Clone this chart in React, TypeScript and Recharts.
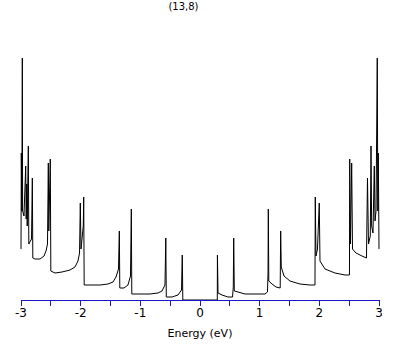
import { Label, Line, LineChart, XAxis, YAxis } from 'recharts';

// density of states for the (13,8) tube
const energy = [
  -3.0, -2.995, -2.986, -2.978, -2.973, -2.95, -2.921, -2.913, -2.904, -2.896,
  -2.877, -2.869, -2.824, -2.81, -2.802, -2.765, -2.681, -2.614, -2.581, -2.556,
  -2.542, -2.534, -2.509, -2.5, -2.43, -2.313, -2.179, -2.095, -2.045, -2.019,
  -2.006, -1.994, -1.956, -1.949, -1.941, -1.843, -1.676, -1.542, -1.458, -1.408,
  -1.366, -1.352, -1.344, -1.274, -1.207, -1.165, -1.151, -1.143, -1.006, -0.838,
  -0.704, -0.637, -0.587, -0.573, -0.565, -0.469, -0.369, -0.31, -0.297, -0.288,
  0.29, 0.292, 0.302, 0.369, 0.469, 0.545, 0.558, 0.565, 0.575, 0.637,
  0.754, 0.922, 1.089, 1.131, 1.14, 1.145, 1.153, 1.207, 1.274, 1.344,
  1.352, 1.362, 1.408, 1.508, 1.676, 1.843, 1.927, 1.932, 1.944, 1.969,
  1.999, 2.011, 2.095, 2.262, 2.43, 2.505, 2.509, 2.522, 2.542, 2.556,
  2.614, 2.715, 2.79, 2.807, 2.824, 2.854, 2.866, 2.877, 2.899, 2.921,
  2.933, 2.95, 2.971, 2.98, 2.988, 3.0,
];

const dos = [
  51, 147, 89, 242, 89, 84, 134, 81, 116, 74,
  154, 56, 61, 122, 42, 41, 41, 44, 49, 56,
  137, 69, 141, 29, 27, 28, 30, 33, 39, 47,
  97, 51, 74, 103, 15, 15, 15, 16, 18, 23,
  31, 69, 12, 12, 15, 24, 91, 6, 6, 6,
  7, 9, 15, 62, 3, 3, 5, 10, 45, 0,
  0, 45, 7, 5, 3, 3, 13, 62, 9, 8,
  6, 6, 6, 8, 27, 91, 19, 16, 13, 12,
  69, 33, 24, 19, 16, 15, 15, 103, 44, 51,
  97, 39, 31, 27, 25, 25, 141, 56, 137, 51,
  47, 44, 42, 122, 56, 64, 154, 74, 67, 134,
  79, 89, 242, 89, 147, 51,
];

const xTicks = [-3, -2.5, -2, -1.5, -1, -0.5, 0, 0.5, 1, 1.5, 2, 2.5, 3];

const data = energy.map((e, i) => ({ e, d: dos[i] }));

const blue = '#1818c8';
const font = '"DejaVu Sans", sans-serif';

export default function App() {
  return (
    <div style={{ position: 'absolute', left: 0, top: 0, width: 409, height: 345, background: '#fff' }}>
      <div
        style={{
          position: 'absolute',
          left: 0,
          width: 367,
          top: 1,
          textAlign: 'center',
          fontFamily: font,
          fontSize: 10,
          color: '#000',
        }}
      >
        (13,8)
      </div>
      <LineChart width={409} height={345} data={data} margin={{ top: 50, right: 30, bottom: 0, left: 21 }}>
        <XAxis
          dataKey="e"
          type="number"
          domain={[-3, 3]}
          ticks={xTicks}
          height={45}
          interval={0}
          tickSize={6}
          axisLine={{ stroke: blue, shapeRendering: 'crispEdges' }}
          tickLine={{ stroke: blue, shapeRendering: 'crispEdges' }}
          tick={{ fill: '#000', fontSize: 12, fontFamily: font }}
          tickFormatter={(v: number) => (Number.isInteger(v) ? String(v) : '')}
        >
          <Label value="Energy (eV)" position="insideBottom" offset={8} fill="#000" fontSize={11} fontFamily={font} />
        </XAxis>
        <YAxis type="number" domain={[0, 250]} hide />
        <Line
          dataKey="d"
          type="linear"
          stroke="#000"
          strokeWidth={1}
          dot={false}
          isAnimationActive={false}
        />
      </LineChart>
    </div>
  );
}
